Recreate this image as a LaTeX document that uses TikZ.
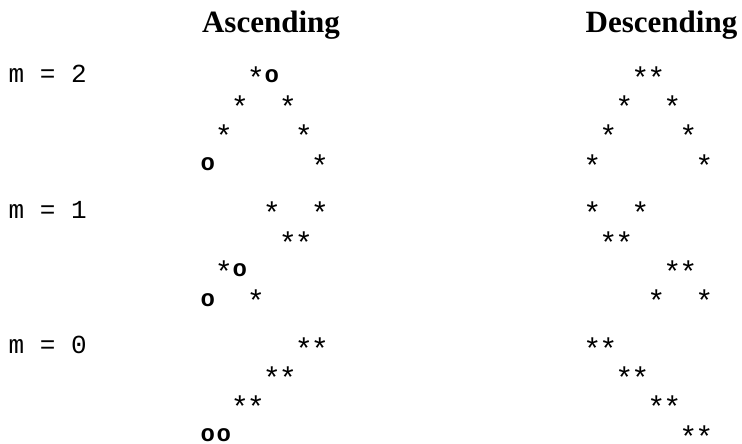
\documentclass[tikz,border=0pt]{standalone}
\usepackage{fontspec}
\setmainfont{Liberation Serif}
\newfontfamily\monofont{Liberation Mono}
\tikzset{
  title/.style={font=\fontsize{31}{31}\selectfont\bfseries, inner sep=0pt, anchor=base},
  lab/.style={font={\fontsize{26}{26}\selectfont\monofont\spaceskip=15.7pt\relax}, inner sep=0pt, anchor=base west},
  st/.style={font=\fontsize{30}{30}\selectfont\monofont, inner sep=0pt, anchor=center, yshift=-4.5pt},
  ring/.style={font=\fontsize{24}{24}\selectfont\monofont\bfseries, inner sep=0pt, anchor=center},
}
\begin{document}
\begin{tikzpicture}[x=1pt,y=-1pt]
\useasboundingbox (0,0) rectangle (742,444);
\node[title] (asc) at (271,33) {Ascending};
\node[title] (desc) at (661.5,33) {Descending};
\node[lab] (m2) at (8.4,82.5) {m = 2};
\node[lab] (m1) at (8.4,218) {m = 1};
\node[lab] (m0) at (8.4,353.5) {m = 0};
% ascending stars
\foreach \g/\r/\c in {0/0/3,0/1/2,0/1/5,0/2/1,0/2/6,0/3/7,
                      1/0/4,1/0/7,1/1/5,1/1/6,1/2/1,1/3/3,
                      2/0/6,2/0/7,2/1/4,2/1/5,2/2/2,2/2/3}
  \node[st] (as-\g-\r-\c) at ({15.6+16.02*(12+\c)},{73+135.5*\g+29.3*\r}) {*};
% ascending rings
\foreach \g/\r/\c in {0/0/4,0/3/0,1/2/2,1/3/0,2/3/0,2/3/1}
  \node[ring] (ar-\g-\r-\c) at ({15.6+16.02*(12+\c)},{76.5+135.5*\g+29.3*\r}) {o};
% descending stars
\foreach \g/\r/\c in {0/0/3,0/0/4,0/1/2,0/1/5,0/2/1,0/2/6,0/3/0,0/3/7,
                      1/0/0,1/0/3,1/1/1,1/1/2,1/2/5,1/2/6,1/3/4,1/3/7,
                      2/0/0,2/0/1,2/1/2,2/1/3,2/2/4,2/2/5,2/3/6,2/3/7}
  \node[st] (ds-\g-\r-\c) at ({15.6+16.02*(36+\c)},{73+135.5*\g+29.3*\r}) {*};
\end{tikzpicture}
\end{document}
